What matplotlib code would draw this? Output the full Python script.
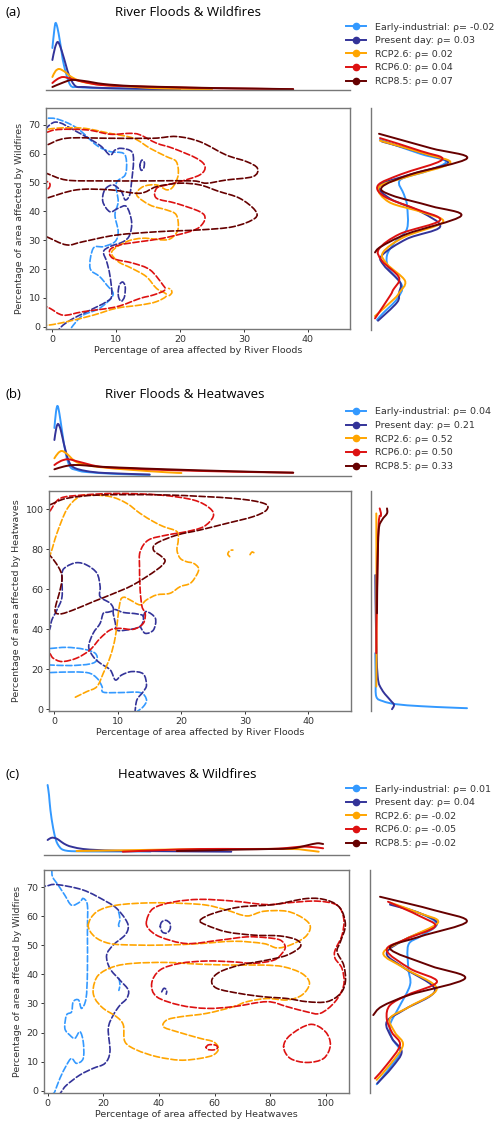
import matplotlib
matplotlib.use('Agg')
import matplotlib.pyplot as plt
from matplotlib.lines import Line2D
from matplotlib.path import Path
from matplotlib.patches import PathPatch

W, H = 500, 1129

scenarios = ['Early-industrial', 'Present day', 'RCP2.6', 'RCP6.0', 'RCP8.5']
colors = ['#3399FF', '#333399', '#FFA500', '#DD1111', '#660000']

tags = ['(a)', '(b)', '(c)']
titles = ['River Floods & Wildfires', 'River Floods & Heatwaves', 'Heatwaves & Wildfires']
xlabels = ['Percentage of area affected by River Floods',
           'Percentage of area affected by River Floods',
           'Percentage of area affected by Heatwaves']
ylabels = ['Percentage of area affected by Wildfires',
           'Percentage of area affected by Heatwaves',
           'Percentage of area affected by Wildfires']

rho_a = ['-0.02', '0.03', '0.02', '0.04', '0.07']
rho_b = ['0.04', '0.21', '0.52', '0.50', '0.33']
rho_c = ['0.01', '0.04', '-0.02', '-0.05', '-0.02']

xlim_a, ylim_a = (-1, 46.6), (-0.8, 75.9)
xlim_b, ylim_b = (-0.85, 46.7), (-0.9, 109)
xlim_c, ylim_c = (-1.3, 108.3), (-0.8, 75.9)
xticks_a, yticks_a = [0, 10, 20, 30, 40], [0, 10, 20, 30, 40, 50, 60, 70]
xticks_b, yticks_b = [0, 10, 20, 30, 40], [0, 20, 40, 60, 80, 100]
xticks_c, yticks_c = [0, 20, 40, 60, 80, 100], [0, 10, 20, 30, 40, 50, 60, 70]

# ---- marginal densities (x / y value, density), one pair per scenario ----
a_top = [
    ([0, 0.3, 0.5, 0.8, 1.2, 1.8, 2.8, 4, 6, 10, 15, 20],
     [.42, .60, .67, .62, .48, .25, .05, .03, .022, .015, .01, .006]),
    ([0, 0.4, 0.8, 1.2, 1.8, 2.6, 3.6, 5, 8, 12, 16, 20],
     [.30, .42, .48, .44, .32, .15, .04, .03, .02, .015, .01, .006]),
    ([0, 0.5, 1.1, 2, 3, 4.8, 8, 12, 15.4, 20, 25],
     [.13, .19, .21, .18, .13, .08, .05, .035, .02, .012, .008]),
    ([0, 0.8, 1.7, 3, 5, 7.6, 12, 18, 25, 32, 37.7],
     [.07, .11, .13, .11, .08, .05, .038, .028, .018, .012, .008]),
    ([0, 1.5, 3, 5, 8, 12.3, 18, 25, 32, 37.7],
     [.03, .07, .10, .09, .06, .04, .03, .02, .014, .008]),
]
a_side = [
    ([64.9, 60, 57.4, 54, 51, 46, 42.3, 34.2, 29.6, 25, 20.3, 14.5, 9.9, 5, 2.7],
     [.09, .50, .75, .55, .29, .33, .36, .36, .24, .16, .18, .31, .26, .12, .06]),
    ([64.3, 60, 56.8, 53, 49.2, 44.6, 40, 34.8, 30.7, 25, 21.5, 15.7, 12, 8.7, 2.4],
     [.11, .55, .77, .40, .09, .19, .50, .69, .36, .11, .13, .29, .28, .26, .07]),
    ([64.6, 60, 56.8, 52, 48.6, 43.4, 40, 36.5, 31.3, 26, 22, 16.2, 12, 9.9, 4],
     [.09, .55, .79, .35, .08, .18, .50, .72, .33, .12, .16, .34, .28, .23, .04]),
    ([65.5, 61, 58, 53, 49.2, 45.2, 41, 37.1, 32.4, 27.2, 23.1, 17.3, 13, 11, 3.2],
     [.09, .50, .71, .30, .07, .14, .45, .69, .29, .08, .11, .28, .22, .19, .04]),
    ([67, 62, 58.5, 53, 48.6, 45.7, 42, 38.6, 32.4, 28, 26],
     [.08, .60, .96, .40, .11, .21, .60, .90, .36, .10, .04]),
]
b_top = [
    ([0, 0.25, 0.5, 0.8, 1.2, 1.8, 2.5, 3.5, 5, 10, 15],
     [.48, .64, .70, .62, .45, .22, .09, .06, .04, .02, .01]),
    ([0, 0.3, 0.6, 1, 1.5, 2.2, 3, 5, 8, 15],
     [.36, .48, .52, .46, .32, .16, .087, .05, .03, .015]),
    ([0, 0.6, 1.2, 2, 3, 4, 7, 12.4, 17.7, 20],
     [.177, .23, .25, .22, .16, .127, .09, .06, .037, .03]),
    ([0, 1, 2.2, 4, 7.2, 12, 17.7, 28.2, 37.6],
     [.11, .15, .167, .14, .093, .075, .06, .043, .033]),
    ([0, 1.5, 3, 5, 7.2, 12, 17.7, 28.2, 37.6],
     [.067, .095, .11, .105, .093, .08, .067, .047, .033]),
]
b_side = [
    ([28, 15, 6.3, 4, 2.5, 1.5, 0.8, 0.5],
     [.043, .047, .053, .12, .25, .50, .80, .96]),
    ([67, 40, 16.3, 9.7, 4.7, 2.2, 0],
     [.043, .05, .067, .11, .19, .23, .21]),
    ([97.8, 60, 30, 11.3],
     [.053, .055, .055, .053]),
    ([100.3, 97, 92.8, 60, 28],
     [.087, .10, .077, .06, .053]),
    ([100.3, 97.8, 94.5, 89.5, 70, 47.9],
     [.16, .16, .11, .077, .065, .06]),
]
c_top = [
    ([0, 0.5, 1, 2, 3, 3.8, 5, 6.8, 10, 20, 37],
     [.70, .60, .45, .267, .15, .10, .06, .043, .037, .035, .035]),
    ([0, 1, 2, 3.5, 5, 6.8, 9, 12.8, 18, 24.8, 40, 66],
     [.15, .168, .173, .16, .13, .10, .08, .06, .05, .043, .038, .033]),
    ([10.4, 25, 40, 55, 70, 88, 93, 97.4],
     [.04, .046, .053, .058, .06, .06, .048, .033]),
    ([27, 40, 55, 70, 79, 86, 90.8, 95, 99],
     [.033, .048, .06, .06, .06, .07, .083, .08, .067]),
    ([46.4, 60, 66.8, 80, 88, 93, 96.8, 99],
     [.04, .048, .053, .06, .067, .095, .117, .11]),
]
c_side = [
    ([64.4, 61, 57.2, 53, 50.1, 42, 36.3, 28.3, 22.6, 18, 13.4, 8, 2.2],
     [.20, .50, .667, .50, .383, .383, .40, .283, .20, .22, .30, .20, .067]),
    ([64, 61, 57.2, 52, 47.2, 42, 34.6, 28, 23.7, 18, 13.4, 8, 2.5],
     [.20, .50, .667, .35, .167, .35, .65, .35, .167, .22, .317, .22, .073]),
    ([64.7, 61, 57.8, 52, 47.2, 42, 35.2, 29, 24.9, 20, 15.7, 9, 3.7],
     [.20, .50, .68, .35, .133, .35, .667, .40, .20, .25, .33, .20, .067]),
    ([65, 60, 56.4, 52, 48.3, 42, 37.5, 33, 29.4, 24.9, 20, 15.7, 9, 4.2],
     [.18, .50, .65, .35, .167, .40, .67, .38, .20, .167, .22, .30, .17, .05]),
    ([66.7, 62, 58.1, 53, 48.9, 43, 38.6, 33, 29, 26],
     [.10, .65, .967, .50, .20, .60, .95, .40, .12, .033]),
]

# ---- KDE contour loops, (x, y) per point ----
a_contours = [
    [[(-2, 72), (0.5, 72.2), (3.8, 69), (6.9, 63), (9, 60.8), (11.1, 60.2), (11.6, 57.3),
      (11.4, 52.7), (10, 49.8), (10.3, 43.4), (9.8, 38.8), (10.3, 33), (9.8, 29.5), (8, 27.8),
      (6.4, 27.2), (5.9, 20.3), (7.4, 17.4), (8.5, 14.5), (9.5, 11), (7.4, 6.4), (4.8, 4),
      (3.3, 0.6), (2.8, -1)]],
    [[(-2, 66), (0.4, 71), (3.8, 67.7), (7.4, 63), (9, 59.6), (9.8, 61.3), (10.8, 61.9),
      (12.4, 60.8), (12.7, 57.3), (12.4, 50.3), (12.1, 45.7), (11.4, 44), (10.8, 46.9),
      (9.5, 49.2), (8.2, 47.5), (7.9, 43.4), (9, 39.9), (10.3, 41.1), (11.6, 41.7),
      (12.4, 36.5), (12.1, 31.8), (11.1, 29.5), (9, 27.8), (8, 26), (8.5, 22.6), (9, 17.9),
      (9.3, 11), (8.5, 8.7), (5.4, 5.2), (3.3, 2.9), (1.7, 0.6), (1, -1)],
     [(10.3, 12), (10.5, 14.5), (11, 15.5), (11.4, 14), (11.3, 10.5), (10.8, 8.8),
      (10.4, 10), (10.3, 12)],
     [(13.7, 56), (14, 57.8), (14.4, 57), (14.3, 55), (13.9, 54.3), (13.7, 56)]],
    [[(-2, 68), (0.7, 68.9), (4.8, 68.9), (9, 67.1), (12.7, 65.4), (15.3, 61.9), (17.9, 59),
      (19.4, 57.3), (19.7, 52.7), (18.9, 48.6), (17.9, 47.5), (16.3, 49.2), (14.2, 48.6),
      (13.2, 45.7), (15.3, 42.2), (17.9, 40.5), (19.4, 38.8), (19.7, 34.1), (18.9, 31.2),
      (17.6, 30.1), (14.2, 30.7), (11.6, 29.5), (9.3, 26), (10.3, 22.6), (12.4, 20.3),
      (14.7, 17.4), (16.3, 13.3), (17.9, 11), (16.3, 8.7), (13.7, 7.5), (10, 6.4), (6.4, 4),
      (2.2, 1.7), (-0.4, 0.6), (-2, 0.5)],
     [(18.3, 10.8), (18.7, 11.7), (18.6, 12.8), (18.2, 13.3)]],
    [[(-2, 66), (0.4, 68.3), (5.4, 68.3), (9, 66.8), (12.1, 67.1), (13.7, 66.6), (16.3, 63.7),
      (18.9, 61.9), (22.6, 58.4), (23.9, 55.6), (23.1, 52.7), (19.9, 50.3), (17.9, 49.2),
      (16.3, 48), (16.3, 44.6), (19.4, 42.8), (23.1, 39.9), (23.9, 37.6), (23.1, 34.7),
      (21.5, 33), (17.3, 30.7), (13.7, 29.5), (10.6, 28.4), (9, 26.6), (9.5, 23.7),
      (12.7, 22), (15.3, 19.7), (17.3, 14.5), (17.6, 12.7), (15.8, 11), (13.7, 9.8),
      (10, 6.9), (4.8, 5.2), (1.7, 4), (-0.4, 6.4), (-2, 8)],
     [(-2, 47), (-0.6, 48), (-0.5, 50), (-2, 51)]],
    [[(-2, 62.5), (-0.9, 63), (2.2, 65.4), (9, 65.4), (15.8, 65.4), (19.4, 66), (23.1, 64.2),
      (27.2, 59.6), (30.4, 57.3), (32.1, 55), (31.4, 52.1), (27.2, 50.9), (24.1, 49.8),
      (22, 50.6), (15.3, 50.6), (7.4, 50.6), (2.2, 50.9), (-0.9, 53.2), (-2, 54)],
     [(-2, 44), (-0.9, 44.6), (3.8, 47.5), (9, 47.5), (13.7, 46.3), (16.3, 48.6),
      (19.9, 49.8), (23.1, 49.2), (26, 47), (29.3, 44.6), (31.7, 40.5), (31.7, 37.6),
      (28.3, 34.7), (23.1, 33.6), (16.8, 33), (10, 31.8), (4.8, 29.5), (2.2, 28.4),
      (-0.9, 31.2), (-2, 32)]],
]
b_contours = [
    [[(-2, 30.3), (-0.8, 30.3), (1.9, 30.9), (4.6, 30), (6.4, 28), (6.7, 24.6), (5.6, 22.6),
      (2.5, 21.8), (-0.8, 22.1), (-2, 22.1)],
     [(-2, 18), (0.9, 18.5), (5.1, 18.3), (6.7, 15.5), (7.5, 11.3), (7.7, 8.5), (10.3, 8.3),
      (13.5, 8.3), (14.5, 4.7), (14, 1.3), (13, -1.2)]],
    [[(-2, 36), (-0.8, 39.6), (-0.4, 44.6), (0.4, 49.6), (1.2, 56.2), (1.2, 67.9), (1.9, 71.2),
      (3.5, 73.2), (5.1, 72), (6.7, 67.9), (7.2, 61.2), (7.2, 56.2), (8.8, 52.9), (9.3, 49.6),
      (8.5, 48.5), (7.7, 47.9), (7.2, 42.9), (6.1, 37.9), (5.4, 31.3), (6.1, 26.3), (7.2, 23),
      (8.8, 19.6), (9.6, 14.6), (10.6, 17.1), (12.2, 18.8), (14, 17.6), (14.5, 12.1),
      (14, 8.8), (13, 4.7), (12.7, -1)],
     [(9.3, 49.6), (9.6, 42.9), (9.8, 39.6), (11, 39.4), (13.5, 41.3), (14, 46.3), (13, 47.6),
      (10.9, 48.3), (9.3, 49.6)],
     [(14, 46.3), (14.5, 48.8), (15.9, 45.4), (15.6, 39.6), (14.3, 37.9), (13.5, 41.3)]],
    [[(3.3, 6), (5.1, 8.8), (6.7, 11.3), (7.7, 18), (8.8, 26.3), (9.6, 36.3), (10.3, 52.9),
      (10.9, 55.9), (11.9, 54.6), (13.5, 52.1), (14.5, 54.6), (16.1, 57.1), (18.2, 57.9),
      (19.8, 61.2), (21.4, 62.9), (22.4, 67.1), (22.7, 70.4), (21.9, 72.9), (20.8, 73.7),
      (19.8, 75.4), (19.3, 79.5), (19.5, 84.5), (19.3, 88.7), (17.2, 91.2), (15.6, 93.7),
      (13.5, 97.8), (11.4, 102.8), (8.8, 106.2), (5.1, 107), (3.5, 105.3), (1.9, 99.5),
      (0.4, 87.9), (-0.8, 76.2), (-2, 73)],
     [(27.6, 76.2), (27.3, 77.5), (27.6, 79.2), (28.1, 79.5)],
     [(30.8, 77.2), (31.1, 78.5), (31.4, 78.2)]],
    [[(-2, 29), (-0.8, 28), (-0.2, 25.5), (1.2, 23.8), (3.5, 25.5), (5.6, 29.6), (7.2, 35.4),
      (8.8, 39.6), (10.3, 40.4), (12.4, 39.9), (14, 42.9), (14.3, 47.9), (13.8, 51.2),
      (13.5, 59.6), (13.4, 71.2), (13.5, 78.7), (14.8, 84.5), (17.7, 87), (20.8, 88.7),
      (23.5, 91.2), (25, 96.2), (24.5, 100.3), (21.9, 104.5), (16.6, 107), (9.8, 107.8),
      (4.6, 107), (0.9, 105.3), (-0.8, 98.7), (-2, 97)]],
    [[(-2, 101.5), (-0.8, 102), (1.9, 105.3), (7.2, 107), (17.7, 107), (28.2, 105.3),
      (33, 102.8), (33.4, 99.5), (31.3, 96.2), (27.1, 92.8), (22.9, 89.5), (19.3, 87),
      (16.1, 82.9), (15.6, 79.5), (16.9, 76.2), (17.4, 73.7), (16.1, 69.6), (12.4, 62.1),
      (8.8, 57.1), (6.1, 53.7), (3, 49.6), (0.9, 47.6), (0.1, 49.6), (0.9, 59.6), (1.2, 66.2),
      (0.6, 71.2), (-0.8, 77), (-2, 78)]],
]
c_contours = [
    [[(1.5, 76), (1.8, 73.5), (3.8, 70.7), (6.2, 67.2), (8.6, 63.8), (11.6, 64.9), (12.8, 66.1),
      (14.3, 63.8), (14.3, 54.6), (14.3, 40.9), (13.8, 31.7), (12.2, 28.3), (11.1, 31.2),
      (9.2, 30.6), (8.6, 27.1), (6.8, 26), (6.2, 21.4), (8, 19.1), (9.8, 18), (11.6, 20.3),
      (12.8, 16.8), (12.8, 11.1), (10.4, 9.4), (8.6, 11.1), (6.8, 8.8), (4.4, 4.2),
      (2.6, -0.3), (2, -1)],
     [(25.5, 61.5), (26, 59), (25.5, 57), (26, 56)],
     [(25.6, 38.6), (26, 36.5), (25.6, 34.5)]],
    [[(-3, 70.2), (-0.4, 70.4), (3.2, 70.9), (12.8, 69), (21.2, 65), (24.8, 62.7), (27.8, 59.2),
      (29, 56.4), (27.8, 53.5), (23.6, 50.1), (21.2, 46.6), (22.4, 42), (26, 38), (29, 34.6),
      (28.4, 31.7), (26, 29.4), (23.6, 26), (21.8, 21.4), (22.4, 13.4), (20.6, 9.4),
      (16.4, 7.7), (11.6, 5.4), (6.8, 1.9), (5, -0.3), (4.5, -1)],
     [(40.5, 56.5), (41, 58), (42.5, 58.6), (44, 57.5), (44, 55.5), (42.8, 54.2),
      (41.2, 54.6), (40.5, 56.5)],
     [(41, 34), (41.8, 35.2), (42.8, 34.6), (42.6, 33.2)]],
    [[(14.6, 56.9), (17.6, 61.5), (24.8, 63.8), (36.8, 64.6), (48.8, 64.4), (57.2, 63.8),
      (64.4, 62.1), (71.6, 60.1), (77.6, 61.7), (86, 61.7), (92, 59.2), (94.4, 56.4),
      (92.6, 52.9), (87.2, 50.1), (82.4, 49.1), (77.6, 50.6), (67.1, 51.4), (54.8, 50.6),
      (42.8, 50.1), (30.8, 50.1), (22.4, 50.6), (17, 52.9), (14.6, 56.9)],
     [(16.4, 35.2), (18.2, 39.7), (23.6, 42.6), (30.8, 43.8), (42.8, 44.1), (54.8, 43.5),
      (66.8, 43.2), (77.6, 43.2), (84.8, 42.6), (91.4, 40.3), (94.1, 36.9), (91.4, 32.9),
      (86, 31.2), (78.8, 31.7), (71.6, 30.6), (66.8, 28.9), (57.2, 26.6), (47.6, 25.4),
      (42.8, 24.3), (41.6, 22), (46.4, 20.3), (54.8, 18), (59.6, 16.8), (61.4, 14.5),
      (59.6, 12.3), (54.8, 11.1), (47.6, 10.5), (39.2, 11.7), (32, 14), (27.8, 16.8),
      (27.2, 22.6), (24.8, 25.4), (20, 28.3), (17, 31.7), (16.4, 35.2)]],
    [[(35.6, 58.6), (38, 62.7), (45.2, 64.9), (54.8, 65.8), (66.8, 65.2), (78.8, 64),
      (87.2, 64.7), (96.8, 65.2), (104, 63.8), (106.4, 59.2), (105.8, 53.5), (103.3, 48.3),
      (103.3, 45.5), (105.8, 42), (106.4, 36.3), (103.3, 30.6), (98, 26.6), (93.2, 27.1),
      (86, 28.9), (78.8, 30.6), (66.8, 28.9), (57.2, 28.3), (47.6, 29.4), (39.2, 32.3),
      (37.4, 36.9), (40.4, 41.5), (47.6, 43.8), (57.2, 44.6), (66.8, 44.3), (74, 43.8),
      (81.3, 44.9), (84.2, 47.2), (85.4, 49.5), (83.6, 51.8), (78.8, 52.6), (71.6, 52.9),
      (62, 51.8), (50, 50.6), (40.4, 52.9), (36.2, 55.8), (35.6, 58.6)],
     [(57, 15), (58, 15.8), (60.5, 15.6), (61, 14.6), (59.5, 14), (57.5, 14.2), (57, 15)],
     [(84.8, 15.1), (87.2, 19.1), (94.4, 22.8), (99.8, 20.3), (101.6, 15.7), (99.2, 11.1),
      (93.2, 9.7), (87.2, 11.1), (84.8, 15.1)]],
    [[(54.8, 58.6), (59.6, 61), (69.2, 63.2), (81.2, 64), (93.2, 66.1), (100.4, 65.5),
      (105.2, 62.7), (107, 56.9), (105.2, 51.2), (104, 47.8), (106.4, 43.2), (107, 37.5),
      (105.2, 33.4), (100.4, 30.6), (93.2, 30.6), (86, 31.7), (77.6, 32.3), (69.2, 33.4),
      (60.8, 35.2), (59, 38), (62, 40.9), (69.2, 43.2), (78.8, 44.9), (86, 46.6),
      (90.8, 49.5), (89.6, 51.8), (83.6, 53.2), (74, 53.5), (64.4, 54.6), (57.2, 56.9),
      (54.8, 58.6)]],
]

# panel boxes in pixels: (left, top, right, bottom)
main_boxes = [(46, 108, 350, 329), (49, 491, 351, 711), (44, 870, 349, 1093)]
top_boxes = [(46, 20, 350, 90), (49, 400, 351, 476), (44, 780, 349, 855)]
side_boxes = [(371, 108, 490, 330), (371, 491, 490, 711), (370, 870, 490, 1093)]
title_y = [12.5, 394, 774]
title_x = [188, 185, 187]
legend_top = [22.5, 407.5, 784.5]


def box(fig, b):
    l, t, r, bt = b
    return fig.add_axes([l / W, 1 - bt / H, (r - l) / W, (bt - t) / H])


def smooth(xs, ys):
    # cubic Bezier (Catmull-Rom) path through the read points
    pts = list(zip(xs, ys))
    closed = pts[0] == pts[-1] and len(pts) > 3
    n = len(pts)
    verts, codes = [pts[0]], [Path.MOVETO]
    for i in range(n - 1):
        p0 = pts[i - 1] if i > 0 else (pts[-2] if closed else pts[0])
        p1, p2 = pts[i], pts[i + 1]
        p3 = pts[i + 2] if i + 2 < n else (pts[1] if closed else pts[-1])
        c1 = (p1[0] + (p2[0] - p0[0]) / 6, p1[1] + (p2[1] - p0[1]) / 6)
        c2 = (p2[0] - (p3[0] - p1[0]) / 6, p2[1] - (p3[1] - p1[1]) / 6)
        verts += [c1, c2, p2]
        codes += [Path.CURVE4] * 3
    return Path(verts, codes)


def curve(ax, xs, ys, **kw):
    ax.add_patch(PathPatch(smooth(xs, ys), fill=False, capstyle='round', **kw))


fig = plt.figure(figsize=(W / 100, H / 100), dpi=100)

panels = [
    (a_top, a_side, a_contours, rho_a, xlim_a, ylim_a, xticks_a, yticks_a),
    (b_top, b_side, b_contours, rho_b, xlim_b, ylim_b, xticks_b, yticks_b),
    (c_top, c_side, c_contours, rho_c, xlim_c, ylim_c, xticks_c, yticks_c),
]

for i, (top, side, contours, rho, xlim, ylim, xt, yt) in enumerate(panels):
    ax = box(fig, main_boxes[i])
    axt = box(fig, top_boxes[i])
    axs = box(fig, side_boxes[i])

    for k in range(len(scenarios)):
        for loop in contours[k]:
            xs = [p[0] for p in loop]
            ys = [p[1] for p in loop]
            curve(ax, xs, ys, ls='--', lw=1.2, edgecolor=colors[k])
        curve(axt, top[k][0], top[k][1], lw=1.4, edgecolor=colors[k])
        curve(axs, side[k][1], side[k][0], lw=1.4, edgecolor=colors[k])

    ax.set_xlim(xlim)
    ax.set_ylim(ylim)
    ax.set_xticks(xt)
    ax.set_yticks(yt)
    ax.tick_params(labelsize=6.8, length=2.5, width=0.7, pad=1.5, colors='#333333')
    for sp in ax.spines.values():
        sp.set_color('#777777')
        sp.set_linewidth(1.0)
    ax.set_xlabel(xlabels[i], fontsize=6.8, color='#333333', labelpad=2)
    ax.set_ylabel(ylabels[i], fontsize=6.8, color='#333333', labelpad=3)

    axt.set_xlim(xlim)
    axt.set_ylim(0, (top_boxes[i][3] - top_boxes[i][1]) / 100)
    axt.axis('off')
    axt.axhline(0, color='#777777', lw=1.0, clip_on=False)

    axs.set_ylim(ylim)
    axs.set_xlim(0, (side_boxes[i][2] - side_boxes[i][0]) / 100)
    axs.axis('off')
    axs.axvline(0, color='#777777', lw=1.0, clip_on=False)

    fig.text(5 / W, 1 - title_y[i] / H, tags[i], fontsize=9.5, family='Open Sans',
             va='center', ha='left')
    fig.text(title_x[i] / W, 1 - title_y[i] / H, titles[i], fontsize=9.5,
             family='Open Sans', va='center', ha='center')

    handles = [Line2D([0], [0], color=colors[k], lw=1.4, marker='o', markersize=4.5)
               for k in range(len(scenarios))]
    labels = [f'{scenarios[k]}: \u03c1= {rho[k]}' for k in range(len(scenarios))]
    fig.legend(handles, labels, loc='upper left',
               bbox_to_anchor=(346 / W, 1 - legend_top[i] / H), frameon=False,
               fontsize=6.8, handlelength=2.12, handletextpad=0.95, labelspacing=0.49,
               borderaxespad=0, borderpad=0, labelcolor='#333333')

fig.savefig('out.png', dpi=100)
